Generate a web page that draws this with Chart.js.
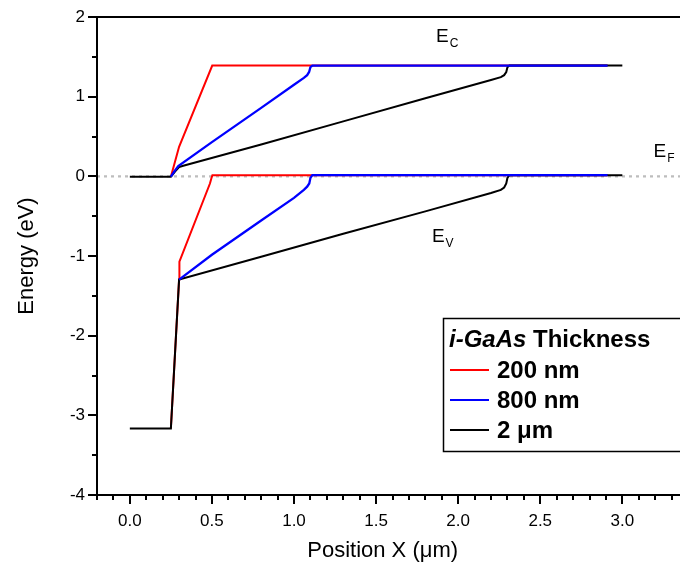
<!DOCTYPE html>
<html><head><meta charset="utf-8">
<script src="https://cdn.jsdelivr.net/npm/chart.js@4/dist/chart.umd.min.js"></script>
<style>html,body{margin:0;padding:0;overflow:hidden;background:#fff;width:680px;height:567px}canvas{display:block}</style>
</head><body><canvas id="c" width="700" height="567"></canvas>
<script>
// Series meta
const seriesLabels = ['200 nm', '800 nm', '2 \u03bcm'];
const seriesColors = ['#ff0000', '#0000ff', '#000000'];

// Conduction band (x in um, E in eV)
const cb200 = [[0.25,-0.005],[0.30,0.37],[0.502,1.39],[2.91,1.39]];
const cb800 = [[0.25,-0.005],[0.27,0.06],[0.295,0.13],[0.5,0.43],[0.8,0.86],[1.0,1.15],[1.06,1.235],[1.08,1.27],[1.092,1.31],[1.10,1.37],[1.112,1.39],[2.91,1.39]];
const cb2um = [[0.0,-0.005],[0.25,-0.005],[0.275,0.06],[0.30,0.115],[0.32,0.13],[0.8,0.40],[1.3,0.69],[1.8,0.98],[2.2,1.21],[2.26,1.245],[2.28,1.27],[2.293,1.31],[2.30,1.37],[2.312,1.39],[3.0,1.39]];

// Valence band
const vb200 = [[0.25,-3.166],[0.30,-1.296],[0.302,-1.07],[0.488,-0.09],[0.496,-0.03],[0.503,0.015],[2.91,0.015]];
const vb800 = [[0.30,-1.296],[0.5,-0.985],[0.8,-0.555],[1.0,-0.27],[1.06,-0.17],[1.08,-0.13],[1.093,-0.09],[1.10,-0.02],[1.112,0.015],[2.91,0.015]];
const vb2um = [[0.0,-3.166],[0.25,-3.166],[0.30,-1.296],[0.8,-1.01],[1.3,-0.72],[1.8,-0.44],[2.2,-0.21],[2.26,-0.17],[2.28,-0.14],[2.293,-0.09],[2.30,-0.02],[2.312,0.015],[3.0,0.015]];

// Fermi level
const fermi = [[-0.2,0],[3.4,0]];

// Axes
const xRange = [-0.2, 3.4];
const yRange = [-4, 2];
const xMajor = 0.5, xMinor = 0.1;
const yMajor = 1, yMinor = 0.5;
const xTitle = 'Position X (\u03bcm)';
const yTitle = 'Energy (eV)';

// Band labels: [main, subscript, x, E]
const bandLabels = [['E','C',1.865,1.68],['E','F',3.19,0.24],['E','V',1.84,-0.83]];

const FONT = '"Liberation Sans", Arial, sans-serif';
const toXY = a => a.map(p => ({x:p[0], y:p[1]}));
function ds(data, color, width){
  return {data: toXY(data), borderColor: color, backgroundColor: color, borderWidth: width || 2,
    pointRadius: 0, fill: false, tension: 0, showLine: true};
}
// First dataset drawn on top: blue, black, red, fermi
const datasets = [
  ds(cb800, seriesColors[1], 2.3), ds(vb800, seriesColors[1], 2.3),
  ds(cb2um, seriesColors[2]), ds(vb2um, seriesColors[2]),
  ds(cb200, seriesColors[0]), ds(vb200, seriesColors[0]),
  Object.assign(ds(fermi, '#bdbdbd'), {borderDash:[3,4], borderWidth:2.2})
];

const framePlugin = {
  id: 'frame',
  afterDatasetsDraw(chart){
    const {ctx, chartArea: a, scales:{x, y}} = chart;
    ctx.save();
    ctx.strokeStyle = '#000'; ctx.lineWidth = 2; ctx.lineCap = 'butt';
    ctx.beginPath();
    ctx.moveTo(a.left, a.top); ctx.lineTo(a.right + 5, a.top);
    ctx.moveTo(a.left, a.top - 1); ctx.lineTo(a.left, a.bottom);
    ctx.moveTo(a.left - 1, a.bottom); ctx.lineTo(a.right + 5, a.bottom);
    ctx.stroke();
    ctx.beginPath();
    const nx = Math.round((xRange[1]-xRange[0])/xMinor);
    for (let i = 0; i <= nx; i++){
      const v = xRange[0] + i*xMinor;
      const major = Math.abs(v/xMajor - Math.round(v/xMajor)) < 1e-6;
      const px = Math.round(x.getPixelForValue(v));
      ctx.moveTo(px, a.bottom); ctx.lineTo(px, a.bottom + (major ? 9 : 5));
    }
    const ny = Math.round((yRange[1]-yRange[0])/yMinor);
    for (let i = 0; i <= ny; i++){
      const v = yRange[0] + i*yMinor;
      const major = Math.abs(v/yMajor - Math.round(v/yMajor)) < 1e-6;
      const py = Math.round(y.getPixelForValue(v));
      ctx.moveTo(a.left, py); ctx.lineTo(a.left - (major ? 9 : 5), py);
    }
    ctx.stroke();

    // x axis title (slightly left of the axis centre, as in the original)
    ctx.fillStyle = '#000'; ctx.textAlign = 'center'; ctx.textBaseline = 'middle';
    ctx.font = '22px ' + FONT;
    ctx.fillText(xTitle, x.getPixelForValue(1.54), 551);

    // band labels
    ctx.textBaseline = 'alphabetic'; ctx.textAlign = 'left';
    bandLabels.forEach(([m, s, vx, vy]) => {
      const px = x.getPixelForValue(vx), py = y.getPixelForValue(vy);
      ctx.font = '19px ' + FONT;
      ctx.fillText(m, px, py);
      const w = ctx.measureText(m).width;
      ctx.font = '12px ' + FONT;
      ctx.fillText(s, px + w + 1, py + 5);
    });

    // legend
    const L = 443, T = 318, B = 451;
    ctx.fillStyle = '#fff';
    ctx.fillRect(L, T, 300, B - T);
    ctx.lineWidth = 1.5; ctx.strokeStyle = '#000';
    ctx.strokeRect(L + 0.5, T + 0.5, 300, B - T);
    ctx.fillStyle = '#000';
    ctx.textBaseline = 'middle';
    ctx.font = 'italic bold 24px ' + FONT;
    ctx.fillText('i-GaAs', 449, 340);
    const wi = ctx.measureText('i-GaAs').width;
    ctx.font = 'bold 24px ' + FONT;
    ctx.fillText(' Thickness', 449 + wi, 340);
    seriesLabels.forEach((lab, i) => {
      const yy = 370 + i*30;
      ctx.strokeStyle = seriesColors[i]; ctx.lineWidth = 2;
      ctx.beginPath(); ctx.moveTo(450, yy); ctx.lineTo(489, yy); ctx.stroke();
      ctx.fillStyle = '#000';
      ctx.font = 'bold 24px ' + FONT;
      ctx.fillText(lab, 497, yy + 1);
    });
    ctx.restore();
  }
};

new Chart(document.getElementById('c'), {
  type: 'scatter',
  data: {datasets},
  options: {
    responsive: false, animation: false, devicePixelRatio: 1,
    layout: {padding: {top: 17, right: 12, left: 0, bottom: 0}},
    plugins: {legend: {display: false}, tooltip: {enabled: false}},
    scales: {
      x: {
        type: 'linear', min: xRange[0], max: xRange[1],
        grid: {display: false, drawTicks: false},
        border: {display: false},
        ticks: {stepSize: xMajor, autoSkip: false, includeBounds: false, maxRotation: 0,
          color: '#000', font: {family: FONT, size: 17}, padding: 16,
          callback: v => (Math.abs(v/xMajor - Math.round(v/xMajor)) < 1e-6 && v > -0.01) ? Math.abs(v).toFixed(1) : ''},
        title: {display: false},
        afterFit: s => { s.height = 72; s.paddingLeft = 0; s.paddingRight = 0; }
      },
      y: {
        type: 'linear', min: yRange[0], max: yRange[1],
        grid: {display: false, drawTicks: false},
        border: {display: false},
        ticks: {stepSize: yMajor, autoSkip: false, color: '#000', font: {family: FONT, size: 17}, padding: 12,
          callback: v => String(v)},
        title: {display: true, text: yTitle, color: '#000', font: {family: FONT, size: 22}, padding: {top: 14, bottom: 0}},
        afterFit: s => { s.width = 97; s.paddingTop = 0; s.paddingBottom = 0; }
      }
    }
  },
  plugins: [framePlugin]
});
</script>
</body></html>
